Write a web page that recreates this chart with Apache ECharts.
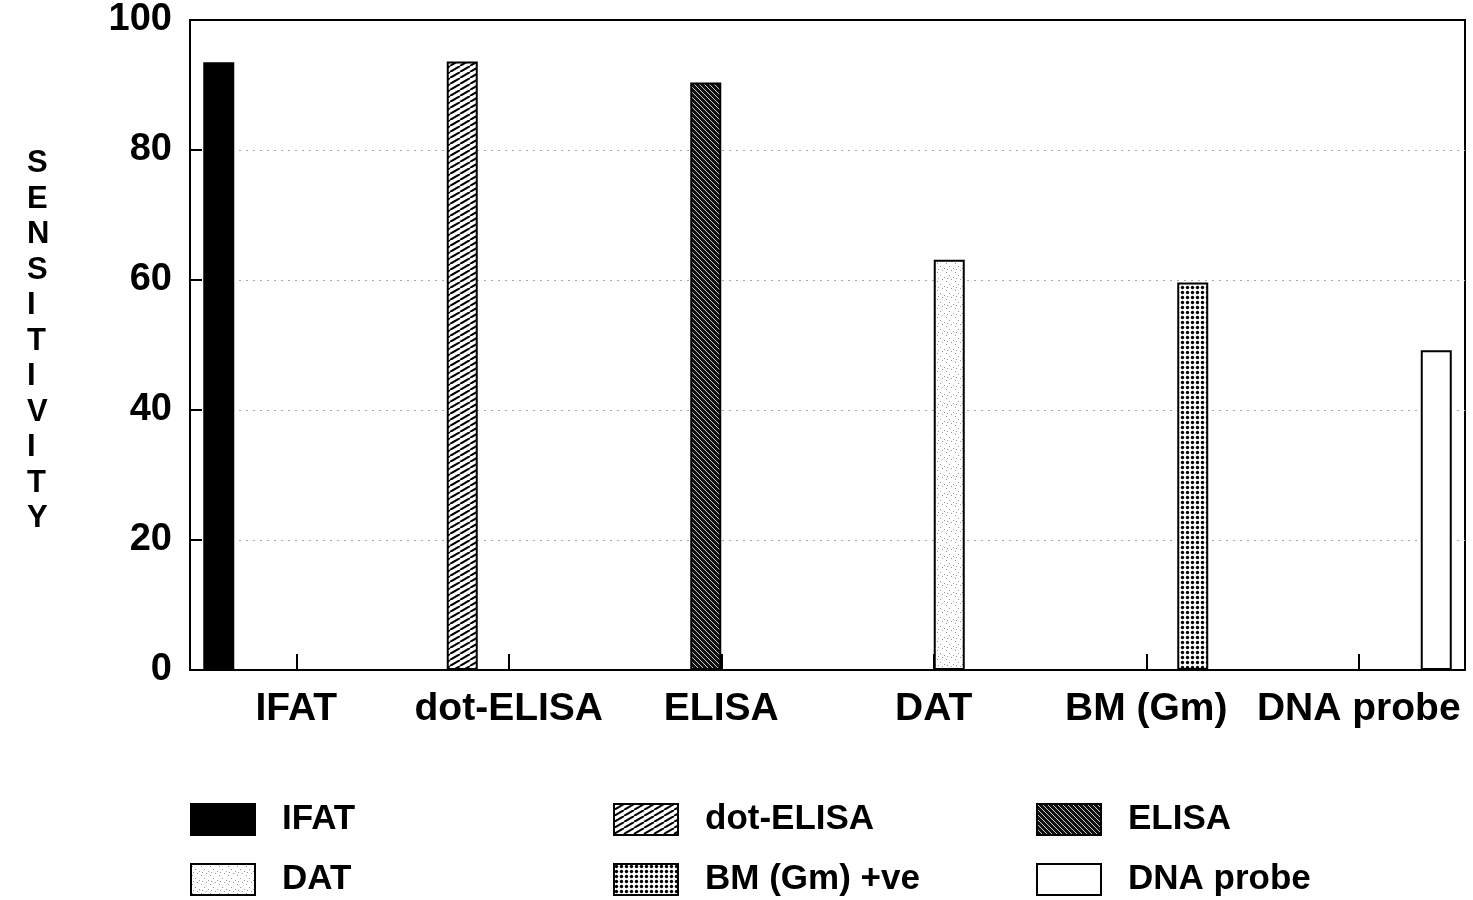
<!DOCTYPE html>
<html>
<head>
<meta charset="utf-8">
<script src="https://cdn.jsdelivr.net/npm/echarts@6/dist/echarts.min.js"></script>
<style>
  html, body { margin: 0; padding: 0; background: #fff; }
  #chart { width: 1473px; height: 900px; }
</style>
</head>
<body>
<div id="chart"></div>
<script>
// Diagnostic methods along the category axis
const categories = ['IFAT', 'dot-ELISA', 'ELISA', 'DAT', 'BM (Gm)', 'DNA probe'];
// Legend names, one per method
const seriesNames = ['IFAT', 'dot-ELISA', 'ELISA', 'DAT', 'BM (Gm) +ve', 'DNA probe'];
// Sensitivity (%) of each method
const sensitivity = [93.5, 93.6, 90.4, 63.1, 59.6, 49.2];
// Y axis ticks
const yTicks = [0, 20, 40, 60, 80, 100];

const FONT = '"Liberation Sans", Arial, Helvetica, sans-serif';

// Hatch / stipple fills for the bars
function tile(w, h, draw) {
  const c = document.createElement('canvas');
  c.width = w; c.height = h;
  const ctx = c.getContext('2d');
  draw(ctx, w, h);
  return { image: c, repeat: 'repeat' };
}
const fills = [
  tile(4, 4, (ctx, w, h) => { ctx.fillStyle = '#000'; ctx.fillRect(0, 0, w, h); }),
  tile(10, 6, (ctx, w, h) => {
    ctx.fillStyle = '#fff'; ctx.fillRect(0, 0, w, h);
    ctx.strokeStyle = '#000'; ctx.lineWidth = 2;
    [-1, 0, 1].forEach(k => {
      ctx.beginPath(); ctx.moveTo(0 + k * w, h); ctx.lineTo(w + k * w, 0); ctx.stroke();
    });
  }),
  tile(5, 5, (ctx, w, h) => {
    ctx.fillStyle = '#111'; ctx.fillRect(0, 0, w, h);
    ctx.strokeStyle = '#ddd'; ctx.lineWidth = 0.9;
    [-1, 0, 1].forEach(k => {
      ctx.beginPath(); ctx.moveTo(k * w, 0); ctx.lineTo(w + k * w, h); ctx.stroke();
    });
  }),
  tile(9, 9, (ctx, w, h) => {
    ctx.fillStyle = '#fff'; ctx.fillRect(0, 0, w, h);
    ctx.fillStyle = '#999';
    [[1, 2], [6, 0], [4, 5], [8, 7], [2, 8]].forEach(p => ctx.fillRect(p[0], p[1], 1, 1));
  }),
  tile(5, 5, (ctx, w, h) => {
    ctx.fillStyle = '#fff'; ctx.fillRect(0, 0, w, h);
    ctx.fillStyle = '#000';
    ctx.beginPath(); ctx.arc(2.5, 2.5, 1.7, 0, Math.PI * 2); ctx.fill();
  }),
  tile(4, 4, (ctx, w, h) => { ctx.fillStyle = '#fff'; ctx.fillRect(0, 0, w, h); })
];

const series = seriesNames.map((name, i) => ({
  name: name,
  type: 'bar',
  barWidth: 31,
  barGap: '0%',
  z: 3,
  data: categories.map((c, j) => (j === i ? sensitivity[i] : '-')),
  itemStyle: { color: fills[i], borderColor: '#000', borderWidth: 2 },
  emphasis: { disabled: true },
  animation: false
}));

// Legend: three columns, two rows
const legendText = { fontFamily: FONT, fontWeight: 'bold', fontSize: 35, color: '#000', padding: [0, 0, 0, 22] };
const legendLeft = [190, 613, 1036];
const legendTop = [802, 862];
const legends = seriesNames.map((name, i) => ({
  orient: 'horizontal',
  left: legendLeft[i % 3],
  top: legendTop[Math.floor(i / 3)],
  padding: 0,
  itemWidth: 64,
  itemHeight: 31,
  icon: 'rect',
  selectedMode: false,
  data: [name],
  textStyle: legendText
}));

const chart = echarts.init(document.getElementById('chart'), null, { renderer: 'canvas' });
chart.setOption({
  backgroundColor: '#fff',
  animation: false,
  grid: {
    left: 190, right: 8, top: 20, bottom: 230,
    show: true, borderColor: '#000', borderWidth: 2, backgroundColor: 'transparent'
  },
  legend: legends,
  xAxis: {
    type: 'category',
    data: categories,
    axisLine: { lineStyle: { color: '#000', width: 2 } },
    axisTick: { show: true, inside: true, length: 16, alignWithLabel: true, lineStyle: { color: '#000', width: 2 } },
    axisLabel: { interval: 0, color: '#000', fontFamily: FONT, fontWeight: 'bold', fontSize: 39, margin: 20 },
    splitLine: { show: false }
  },
  yAxis: {
    type: 'value',
    min: yTicks[0],
    max: yTicks[yTicks.length - 1],
    interval: yTicks[1] - yTicks[0],
    axisLine: { show: true, lineStyle: { color: '#000', width: 2 } },
    axisTick: { show: true, inside: true, length: 12, lineStyle: { color: '#000', width: 2 } },
    axisLabel: { color: '#000', fontFamily: FONT, fontWeight: 'bold', fontSize: 38, margin: 18 },
    splitLine: { show: true, showMinLine: false, showMaxLine: false, lineStyle: { color: '#aaa', width: 1, type: [2, 5] } }
  },
  graphic: [{
    type: 'text',
    left: 27,
    top: 146,
    style: {
      text: 'SENSITIVITY'.split('').join('\n'),
      fontFamily: FONT,
      fontWeight: 'bold',
      fontSize: 31,
      lineHeight: 35.5,
      align: 'center',
      fill: '#000'
    }
  }],
  series: series
});
</script>
</body>
</html>
